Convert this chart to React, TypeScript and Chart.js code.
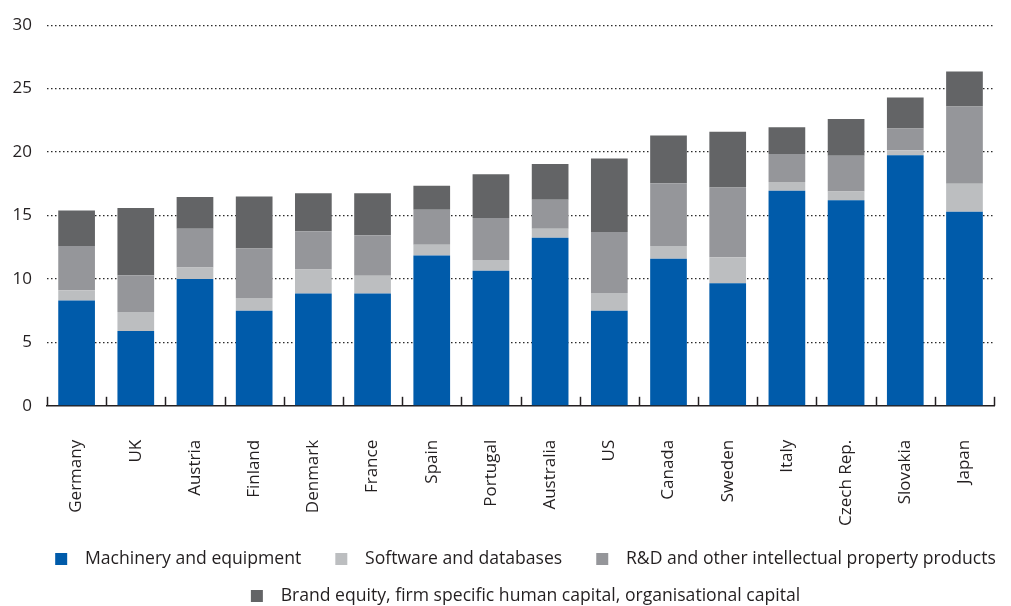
import React, { useEffect, useRef } from "react";
import { Chart, registerables } from "chart.js";

Chart.register(...registerables);

const categories = [
  "Germany", "UK", "Austria", "Finland", "Denmark", "France", "Spain", "Portugal",
  "Australia", "US", "Canada", "Sweden", "Italy", "Czech Rep.", "Slovakia", "Japan",
];
const machinery = [8.3, 5.9, 10.0, 7.5, 8.85, 8.85, 11.85, 10.65, 13.25, 7.5, 11.6, 9.65, 16.95, 16.2, 19.75, 15.3];
const software = [0.8, 1.5, 0.9, 1.0, 1.9, 1.4, 0.85, 0.85, 0.7, 1.4, 1.0, 2.05, 0.7, 0.7, 0.4, 2.2];
const rnd = [3.5, 2.9, 3.05, 3.9, 3.0, 3.2, 2.75, 3.3, 2.3, 4.8, 4.95, 5.5, 2.2, 2.8, 1.7, 6.1];
const brand = [2.8, 5.3, 2.5, 4.1, 3.0, 3.3, 1.9, 3.45, 2.8, 5.8, 3.75, 4.4, 2.1, 2.9, 2.45, 2.75];

const seriesNames = [
  "Machinery and equipment",
  "Software and databases",
  "R&D and other intellectual property products",
  "Brand equity, firm specific human capital, organisational capital",
];
const yTicks = [0, 5, 10, 15, 20, 25, 30];

const colors = ["#005BAA", "#BCBEC0", "#95969A", "#636466"];
const textColor = "#231F20";
const FONT = "'Open Sans', sans-serif";
const LEGEND_FONT = 17.6;
const LEGEND_BOX_W = 35;
const SWATCH = 12;
const SWATCH_GAP = 18;
const LEGEND_SHIFT = 15;

function legendSwatch(color: string): HTMLCanvasElement {
  const c = document.createElement("canvas");
  c.width = LEGEND_BOX_W;
  c.height = SWATCH;
  const g = c.getContext("2d")!;
  g.fillStyle = color;
  const right = LEGEND_BOX_W + LEGEND_FONT / 2 - SWATCH_GAP;
  g.fillRect(Math.round(right - SWATCH), 0, SWATCH, SWATCH);
  return c;
}

const innerTicks = {
  id: "innerTicks",
  afterDatasetsDraw(chart: any) {
    const x = chart.scales.x;
    const area = chart.chartArea;
    const ctx = chart.ctx;
    const n = categories.length;
    ctx.save();
    ctx.strokeStyle = textColor;
    ctx.lineWidth = 1.5;
    for (let i = 0; i <= n; i++) {
      let px: number;
      if (i === 0) px = area.left;
      else if (i === n) px = area.right;
      else px = (x.getPixelForValue(i - 1) + x.getPixelForValue(i)) / 2;
      px = Math.round(px) + 0.5;
      ctx.beginPath();
      ctx.moveTo(px, area.bottom);
      ctx.lineTo(px, area.bottom - 9);
      ctx.stroke();
    }
    ctx.restore();
  },
};

const legendOffset = {
  id: "legendOffset",
  afterLayout(chart: any) {
    const lg = chart.legend;
    if (lg) {
      lg.left += LEGEND_SHIFT;
      lg.right += LEGEND_SHIFT;
    }
  },
};

export default function App() {
  const ref = useRef<HTMLCanvasElement>(null);
  useEffect(() => {
    if (!ref.current) return;
    const data = [machinery, software, rnd, brand];
    const chart = new Chart(ref.current, {
      type: "bar",
      data: {
        labels: categories,
        datasets: data.map((d, i) => ({
          label: seriesNames[i],
          data: d,
          backgroundColor: colors[i],
          borderWidth: 0,
          categoryPercentage: 1,
          barPercentage: 0.62,
          pointStyle: legendSwatch(colors[i]) as any,
        })),
      },
      options: {
        animation: false,
        responsive: false,
        layout: { padding: { top: 23, right: 4, left: 0, bottom: 0 } },
        plugins: {
          tooltip: { enabled: false },
          legend: {
            position: "bottom",
            labels: {
              usePointStyle: true,
              pointStyleWidth: LEGEND_BOX_W,
              boxHeight: SWATCH,
              padding: 20,
              color: textColor,
              font: { family: FONT, size: LEGEND_FONT },
            },
          },
        },
        scales: {
          x: {
            stacked: true,
            grid: { display: false },
            border: { display: true, color: textColor, width: 1.5 },
            ticks: {
              color: textColor,
              font: { family: FONT, size: 17 },
              minRotation: 90,
              maxRotation: 90,
              padding: 26,
              autoSkip: false,
            },
            afterFit: (s: any) => {
              s.height = 124;
            },
          },
          y: {
            stacked: true,
            min: 0,
            max: 30,
            afterBuildTicks: (s: any) => {
              s.ticks = yTicks.map((v) => ({ value: v }));
            },
            border: { display: false, dash: [1.5, 2.5] },
            grid: {
              drawTicks: false,
              color: (c: any) => (c.tick && c.tick.value === 0 ? "rgba(0,0,0,0)" : "#2a2a2a"),
              lineWidth: 1.2,
            },
            ticks: {
              color: textColor,
              font: { family: FONT, size: 17 },
              padding: 15,
            },
            afterFit: (s: any) => {
              s.width = 47;
            },
          },
        },
      },
      plugins: [innerTicks, legendOffset],
    });
    return () => chart.destroy();
  }, []);
  return (
    <div style={{ position: "fixed", left: 0, top: 0, width: 1011, height: 606, overflow: "hidden", background: "#fff" }}>
      <canvas ref={ref} width={1011} height={615} style={{ display: "block", width: 1011, height: 615 }} />
    </div>
  );
}
